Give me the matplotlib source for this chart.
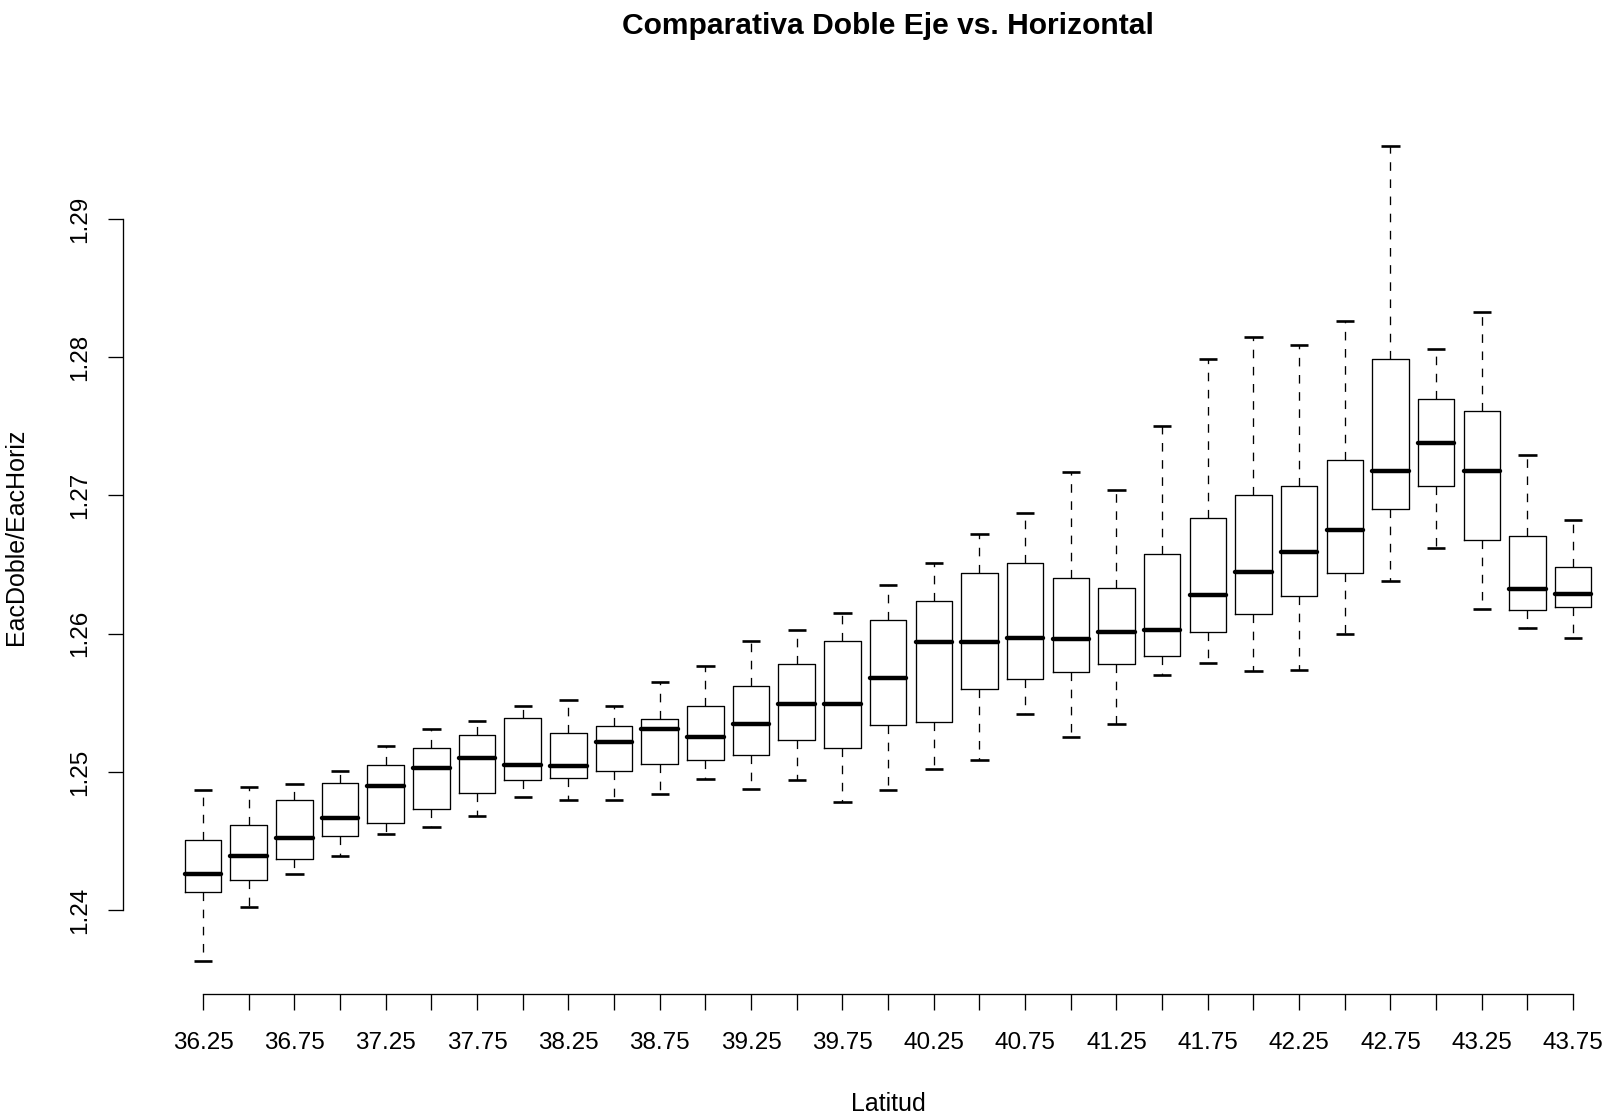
import matplotlib
matplotlib.use("Agg")
import matplotlib.pyplot as plt

plt.rcParams['font.family'] = ['Liberation Sans', 'DejaVu Sans']

# Latitude classes (one box per class)
latitud = ['36.25', '36.50', '36.75', '37.00', '37.25', '37.50', '37.75', '38.00', '38.25',
           '38.50', '38.75', '39.00', '39.25', '39.50', '39.75', '40.00', '40.25', '40.50',
           '40.75', '41.00', '41.25', '41.50', '41.75', '42.00', '42.25', '42.50', '42.75',
           '43.00', '43.25', '43.50', '43.75']

# EacDoble/EacHoriz statistics
whislo = [1.2363, 1.2402, 1.2426, 1.2439, 1.2455, 1.2460, 1.2468, 1.2482, 1.2480, 1.2480,
          1.2484, 1.2495, 1.2488, 1.2494, 1.2478, 1.2487, 1.2502, 1.2509, 1.2542, 1.2525,
          1.2535, 1.2570, 1.2579, 1.2573, 1.2574, 1.2600, 1.2638, 1.2662, 1.2618, 1.2604,
          1.2597]
q1 = [1.2413, 1.2422, 1.2437, 1.2454, 1.2463, 1.2473, 1.2485, 1.2494, 1.2496, 1.2501,
      1.2506, 1.2509, 1.2512, 1.2523, 1.2517, 1.2534, 1.2536, 1.2560, 1.2567, 1.2572,
      1.2578, 1.2584, 1.2601, 1.2614, 1.2627, 1.2644, 1.2690, 1.2707, 1.2668, 1.2617,
      1.2619]
med = [1.2426, 1.2439, 1.2452, 1.2467, 1.2490, 1.2503, 1.2510, 1.2505, 1.2504, 1.2522,
       1.2531, 1.2525, 1.2535, 1.2549, 1.2549, 1.2568, 1.2594, 1.2594, 1.2597, 1.2596,
       1.2601, 1.2603, 1.2628, 1.2645, 1.2659, 1.2675, 1.2718, 1.2738, 1.2718, 1.2632,
       1.2629]
q3 = [1.2451, 1.2462, 1.2480, 1.2492, 1.2505, 1.2517, 1.2527, 1.2539, 1.2528, 1.2533,
      1.2538, 1.2548, 1.2562, 1.2578, 1.2595, 1.2610, 1.2624, 1.2644, 1.2651, 1.2640,
      1.2633, 1.2658, 1.2684, 1.2700, 1.2707, 1.2726, 1.2799, 1.2770, 1.2761, 1.2671,
      1.2648]
whishi = [1.2487, 1.2489, 1.2491, 1.2501, 1.2519, 1.2531, 1.2537, 1.2548, 1.2552, 1.2548,
          1.2565, 1.2577, 1.2595, 1.2603, 1.2615, 1.2635, 1.2651, 1.2672, 1.2687, 1.2717,
          1.2704, 1.2750, 1.2799, 1.2815, 1.2809, 1.2826, 1.2953, 1.2806, 1.2833, 1.2729,
          1.2682]

yticks = [1.24, 1.25, 1.26, 1.27, 1.28, 1.29]

W, H = 1608, 1119
fig = plt.figure(figsize=(W / 100, H / 100), dpi=100)

# plot region in pixels
left_px, right_px = 180.2, 1596.0
top_px, bottom_px = 113.1, 994.0
ax = fig.add_axes([left_px / W, 1 - bottom_px / H,
                   (right_px - left_px) / W, (bottom_px - top_px) / H])

stats = []
for i in range(len(latitud)):
    stats.append(dict(whislo=whislo[i], q1=q1[i], med=med[i], q3=q3[i],
                      whishi=whishi[i], fliers=[], label=latitud[i]))

pos = list(range(1, len(latitud) + 1))
ax.bxp(stats, positions=pos, widths=0.8, capwidths=0.4, showfliers=False,
       boxprops=dict(color='black', lw=0.95),
       whiskerprops=dict(color='black', lw=0.95, linestyle=(0, (6.5, 6.5))),
       capprops=dict(color='black', lw=1.9, solid_capstyle='butt'),
       medianprops=dict(color='black', lw=3.2, solid_capstyle='round'))

# R style range: data +/- 4%
lo, hi = min(whislo), max(whishi)
pad = 0.04 * (hi - lo)
ax.set_ylim(lo - pad, hi + pad)
ax.set_xlim(0.5, len(latitud) + 0.5)

for s in ['top', 'right']:
    ax.spines[s].set_visible(False)
ax.spines['left'].set_position(('outward', 41.4))
ax.spines['left'].set_bounds(yticks[0], yticks[-1])
ax.spines['bottom'].set_bounds(1, len(latitud))
for s in ['left', 'bottom']:
    ax.spines[s].set_linewidth(0.95)

# every tick drawn, only every other label fits (as R does)
ax.set_xticks(pos)
ax.set_xticklabels([lab if i % 2 == 0 else '' for i, lab in enumerate(latitud)])
ax.set_yticks(yticks)
ax.set_yticklabels(['%.2f' % v for v in yticks])
ax.tick_params(axis='x', length=11.2, width=0.95, labelsize=17.5, pad=16)
ax.tick_params(axis='y', length=11, width=0.95, labelsize=17.5, pad=12, labelrotation=90)
plt.setp(ax.get_yticklabels(), va='center')

fig.text(888 / W, 1 - 34 / H, 'Comparativa Doble Eje vs. Horizontal', ha='center',
         va='baseline', fontsize=21.6, fontweight='bold')
fig.text(888 / W, 1 - 1111 / H, 'Latitud', ha='center', va='baseline', fontsize=18)
fig.text(16 / W, 1 - 537 / H, 'EacDoble/EacHoriz', ha='center', va='center',
         rotation=90, fontsize=18)

fig.savefig('out.png', dpi=100)
